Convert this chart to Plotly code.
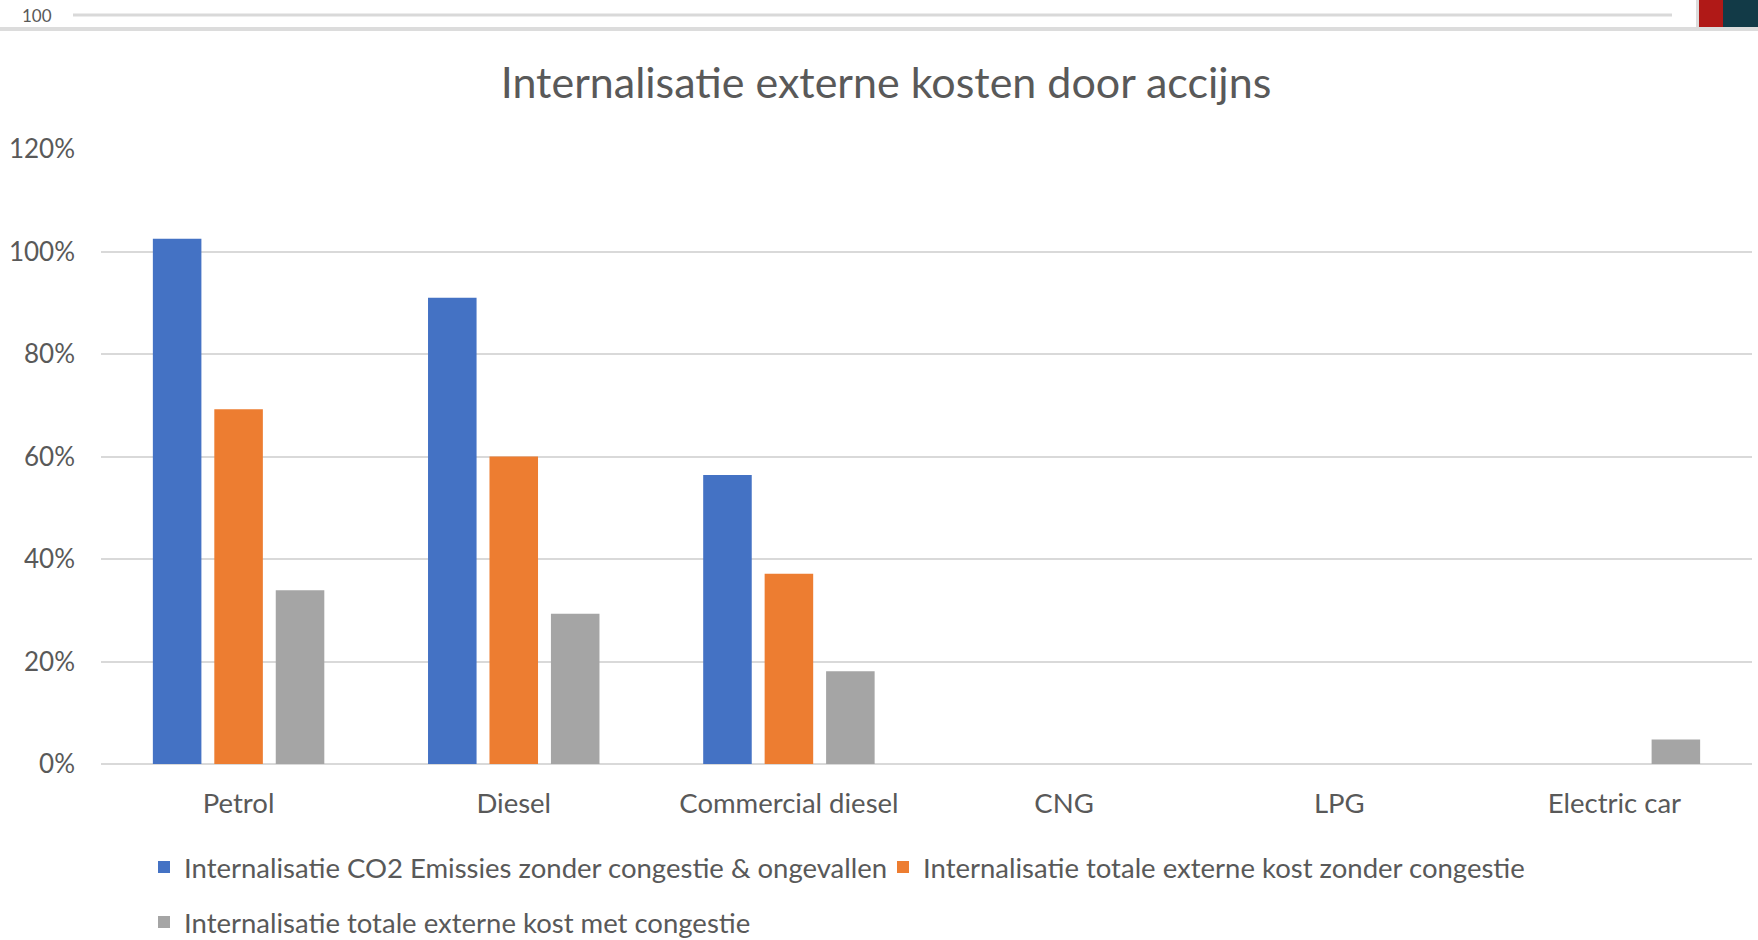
import plotly.graph_objects as go

categories = ["Petrol", "Diesel", "Commercial diesel", "CNG", "LPG", "Electric car"]
co2_no_congestion = [1.025, 0.91, 0.564, 0, 0, 0]
total_no_congestion = [0.692, 0.60, 0.371, 0, 0, 0]
total_with_congestion = [0.339, 0.293, 0.181, 0, 0, 0.048]
series_names = [
    "Internalisatie CO2 Emissies zonder congestie & ongevallen",
    "Internalisatie totale externe kost zonder congestie",
    "Internalisatie totale externe kost met congestie",
]
y_ticks = [0, 0.2, 0.4, 0.6, 0.8, 1.0, 1.2]
title_text = "Internalisatie externe kosten door accijns"
page_number = "100"

W, H = 1758, 940
L, R = 101, 1752
T, B = 149, 764
FONT = "Lato"
TXT = "#595959"

def px(x):
    return (x - L) / (R - L)

def py(y):
    return (B - y) / (B - T)

fig = go.Figure()
colors = ["#4472C4", "#ED7D31", "#A5A5A5"]
legends = ["legend", "legend3", "legend2"]
for name, vals, c, lg in zip(series_names, [co2_no_congestion, total_no_congestion, total_with_congestion], colors, legends):
    fig.add_trace(go.Bar(x=categories, y=vals, name=name, marker=dict(color=c, line=dict(width=0)), legend=lg))

leg_common = dict(orientation="h", xanchor="left", yanchor="middle",
                  font=dict(size=27.5, color=TXT, family=FONT), bgcolor="rgba(0,0,0,0)")

fig.update_layout(
    width=W, height=H,
    margin=dict(l=L, r=W - R, t=T, b=H - B, autoexpand=False),
    paper_bgcolor="white", plot_bgcolor="white",
    barmode="group", bargap=0.33, bargroupgap=0.21,
    font=dict(family=FONT, color=TXT, size=26),
    title=dict(text=title_text, x=px(886), xanchor="center", xref="paper",
               y=1 - 83 / H, yanchor="middle", font=dict(size=43, color=TXT, family=FONT)),
    showlegend=True,
    legend=dict(x=px(144), y=py(867), **leg_common),
    legend3=dict(x=px(883), y=py(867), **leg_common),
    legend2=dict(x=px(144), y=py(922), **leg_common),
)

fig.update_yaxes(range=[0, 1.2], tickvals=y_ticks, tickformat=".0%",
                 showgrid=True, gridcolor="#D9D9D9", gridwidth=2,
                 zeroline=True, zerolinecolor="#D9D9D9", zerolinewidth=2,
                 showline=False, ticks="", ticklabelstandoff=25,
                 tickfont=dict(size=26, color=TXT, family=FONT), fixedrange=True)
fig.update_xaxes(showgrid=False, showline=False, ticks="", ticklabelstandoff=20,
                 tickfont=dict(size=27.5, color=TXT, family=FONT), fixedrange=True)

# top strip decoration (document header)
shapes = [
    dict(type="line", xref="paper", yref="paper", x0=px(73), x1=px(1672), y0=py(15), y1=py(15),
         line=dict(color="#D9D9D9", width=3)),
    dict(type="rect", xref="paper", yref="paper", x0=px(0), x1=px(W), y0=py(31), y1=py(27),
         line=dict(width=0), fillcolor="#DCDCDC"),
    dict(type="rect", xref="paper", yref="paper", x0=px(1696), x1=px(1699), y0=py(27), y1=py(0),
         line=dict(width=0), fillcolor="#DCDCDC"),
    dict(type="rect", xref="paper", yref="paper", x0=px(1699), x1=px(1723), y0=py(27), y1=py(0),
         line=dict(width=0), fillcolor="#B01917"),
    dict(type="rect", xref="paper", yref="paper", x0=px(1723), x1=px(W), y0=py(27), y1=py(0),
         line=dict(width=0), fillcolor="#123A47"),
]
fig.update_layout(shapes=shapes)
fig.add_annotation(text=page_number, xref="paper", yref="paper", x=px(37), y=py(16),
                   xanchor="center", yanchor="middle", showarrow=False,
                   font=dict(size=17, color=TXT, family=FONT))

fig.write_html("out.html", config={"displayModeBar": False},
               post_script="document.body.style.margin='0';document.body.style.overflow='hidden';")
